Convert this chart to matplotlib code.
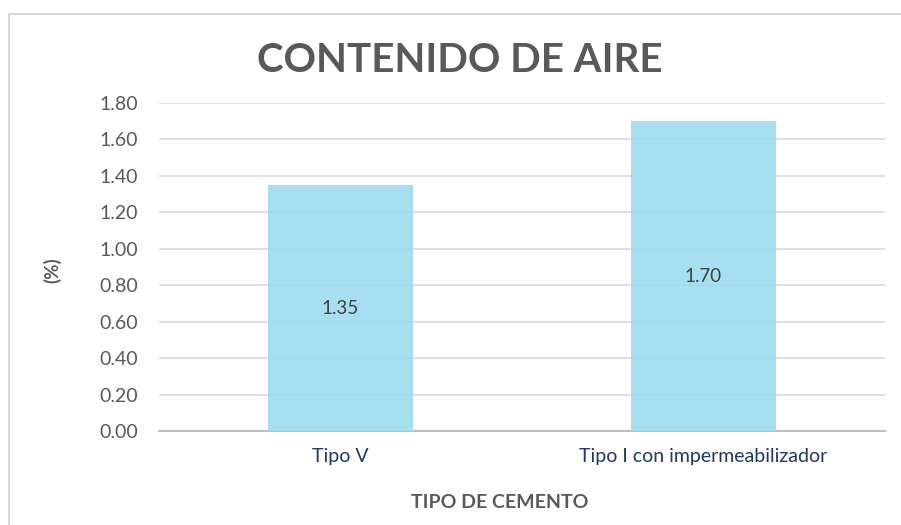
import matplotlib.pyplot as plt
from matplotlib.patches import Rectangle

# data
categories = ['Tipo V', 'Tipo I con impermeabilizador']
values = [1.35, 1.70]
y_ticks = [0.0, 0.2, 0.4, 0.6, 0.8, 1.0, 1.2, 1.4, 1.6, 1.8]

plt.rcParams['font.family'] = ['Lato', 'DejaVu Sans']

fig = plt.figure(figsize=(9.01, 5.25), dpi=100)
W, H = 901, 525

# outer chart frame
fig.patches.append(Rectangle((9 / W, -0.1), 1.0, (525 - 14) / H + 0.1,
                             transform=fig.transFigure, fill=False,
                             edgecolor='#d9d9d9', linewidth=1.5))

ax = fig.add_axes([159 / W, (H - 431) / H, (885 - 159) / W, (431 - 103) / H])

x = range(len(categories))
bars = ax.bar(x, values, width=0.40, color='#9edcef', alpha=0.9, zorder=3)

for b, v in zip(bars, values):
    ax.text(b.get_x() + b.get_width() / 2, v / 2, f'{v:.2f}',
            ha='center', va='center', fontsize=13.5, color='#404040', zorder=4)

ax.set_xlim(-0.5, len(categories) - 0.5)
ax.set_ylim(0, 1.8)
ax.set_yticks(y_ticks)
ax.set_yticklabels([f'{t:.2f}' for t in y_ticks], fontsize=14, color='#595959')
ax.set_xticks(list(x))
ax.set_xticklabels(categories, fontsize=14, color='#1f3864')
ax.tick_params(axis='both', length=0)
ax.tick_params(axis='y', pad=15)
ax.tick_params(axis='x', pad=12)

ax.grid(axis='y', color='#d9d9d9', linewidth=1.2, zorder=0)
for s in ['top', 'right', 'left']:
    ax.spines[s].set_visible(False)
ax.spines['bottom'].set_color('#bfbfbf')
ax.spines['bottom'].set_linewidth(1.5)

fig.text(460 / W, 1 - 60 / H, 'CONTENIDO DE AIRE', ha='center', va='center',
         fontsize=29, fontweight='bold', color='#595959')
fig.text(52 / W, 1 - 270 / H, '(%)', ha='center', va='center', rotation=90,
         fontsize=13.5, fontweight='bold', color='#595959')
fig.text(500 / W, 1 - 503 / H, 'TIPO DE CEMENTO', ha='center', va='center',
         fontsize=14, fontweight='bold', color='#595959')

fig.savefig('out.png', dpi=100)
